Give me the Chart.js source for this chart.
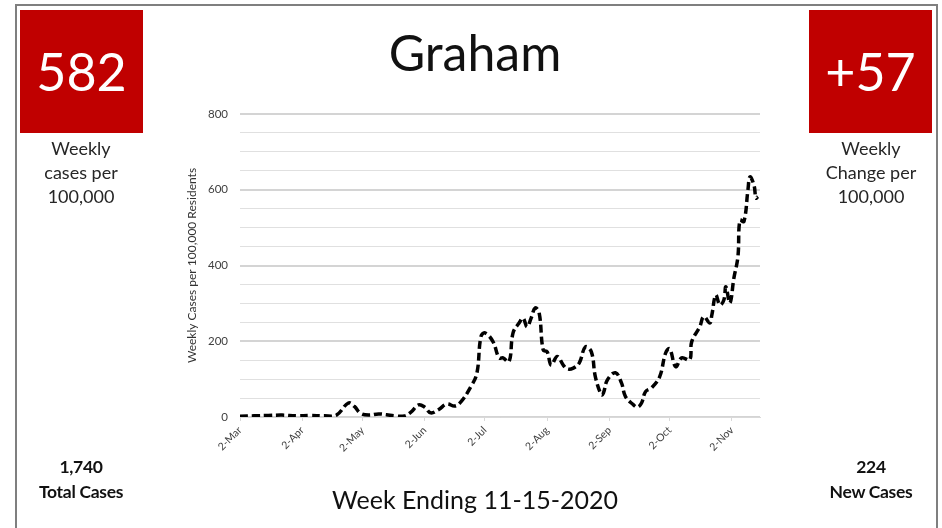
<!DOCTYPE html>
<html>
<head>
<meta charset="utf-8">
<script src="https://cdn.jsdelivr.net/npm/chart.js@4"></script>
<style>
  body { margin: 0; background: #fff; font-family: Lato, "Open Sans", sans-serif; }
  #wrap { position: relative; width: 942px; height: 528px; overflow: hidden; }
  #frame { position: absolute; left: 15px; top: 4px; width: 919px; height: 600px; border: 2px solid #7f7f7f; }
  canvas { position: absolute; left: 0; top: 0; }
  .box { position: absolute; top: 10px; width: 123px; height: 123px; background: #c00000; color: #fff;
         font-size: 52px; line-height: 123px; text-align: center; }
  .cap { position: absolute; top: 136px; width: 160px; text-align: center; font-size: 18px; line-height: 24px; color: #262626; }
  .stat { position: absolute; top: 454px; width: 160px; text-align: center; font-size: 17.5px; line-height: 25px; font-weight: bold; color: #111; letter-spacing: -0.3px; }
  #title { position: absolute; left: 275px; top: 22px; width: 400px; text-align: center; font-size: 50px; color: #111; }
  #week { position: absolute; left: 275px; top: 484px; width: 400px; text-align: center; font-size: 25px; color: #111; }
</style>
</head>
<body>
<div id="wrap">
  <div id="frame"></div>
  <canvas id="chart" width="942" height="528"></canvas>
  <div class="box" style="left:20px">582</div>
  <div class="box" style="left:809px">+57</div>
  <div class="cap" style="left:1px">Weekly<br>cases per<br>100,000</div>
  <div class="cap" style="left:791px">Weekly<br>Change per<br>100,000</div>
  <div class="stat" style="left:1px">1,740<br>Total Cases</div>
  <div class="stat" style="left:791px">224<br>New Cases</div>
  <div id="title">Graham</div>
  <div id="week">Week Ending 11-15-2020</div>
</div>
<script>
// days counted from 2-Mar
var days = [0, 7, 14, 21, 28, 35, 42, 48, 54, 57, 60, 64, 69, 73, 77, 82, 85, 89, 92, 95,
  99, 103, 107, 110, 115, 118, 120, 122, 126, 129, 131, 134, 136, 139, 141, 143, 145, 147, 149, 151,
  153, 155, 158, 161, 163, 166, 169, 172, 175, 177, 180, 181, 183, 187, 190, 192, 196, 198, 200, 202,
  205, 209, 212, 214, 217, 220, 224, 225, 229, 231, 234, 235, 237, 239, 241, 242, 244, 246, 248, 249,
  251, 253, 254, 256, 257, 258];
var cases = [2, 3, 4, 5, 3, 4, 3, 5, 37, 28, 10, 5, 8, 6, 3, 3, 12, 32, 26, 11,
  20, 34, 29, 40, 80, 116, 212, 222, 199, 156, 156, 146, 222, 248, 261, 238, 261, 288, 275, 177,
  172, 137, 160, 137, 127, 129, 143, 185, 172, 106, 58, 63, 98, 117, 90, 54, 32, 26, 37, 67,
  77, 106, 169, 180, 133, 156, 151, 199, 238, 265, 248, 269, 322, 296, 309, 344, 301, 367, 423, 520,
  516, 600, 634, 612, 578, 582];
var tickDays = [0, 31, 61, 92, 122, 153, 184, 214, 245];
var tickLabels = ["2-Mar", "2-Apr", "2-May", "2-Jun", "2-Jul", "2-Aug", "2-Sep", "2-Oct", "2-Nov"];

var points = days.map(function (d, i) { return { x: d, y: cases[i] }; });

new Chart(document.getElementById("chart"), {
  type: "line",
  data: {
    datasets: [{
      data: points,
      borderColor: "#000",
      borderWidth: 3.5,
      borderDash: [8, 4],
      pointRadius: 0,
      tension: 0.4,
      fill: false
    }]
  },
  options: {
    responsive: false,
    animation: false,
    layout: { padding: { left: 185, right: 182, top: 114, bottom: 71 } },
    plugins: { legend: { display: false }, tooltip: { enabled: false } },
    scales: {
      x: {
        type: "linear",
        min: 0,
        max: 259,
        afterFit: function (scale) { scale.height = 40; },
        afterBuildTicks: function (scale) {
          scale.ticks = tickDays.map(function (d) { return { value: d }; });
        },
        ticks: {
          minRotation: 45,
          maxRotation: 45,
          color: "#404040",
          font: { family: "Lato", size: 10.5 },
          callback: function (v) { return tickLabels[tickDays.indexOf(v)]; }
        },
        grid: { drawOnChartArea: false, tickLength: 4, color: "#d9d9d9" },
        border: { color: "#d9d9d9" }
      },
      y: {
        min: 0,
        max: 800,
        afterFit: function (scale) { scale.width = 55; },
        ticks: {
          stepSize: 50,
          padding: 12,
          color: "#404040",
          font: { family: "Lato", size: 11.5 },
          callback: function (v) { return v % 200 === 0 ? v : ""; }
        },
        grid: {
          drawTicks: false,
          color: function (c) { return c.tick && c.tick.value % 200 === 0 ? "#d4d4d4" : "#e0e0e0"; },
          lineWidth: function (c) { return c.tick && c.tick.value % 200 === 0 ? 2 : 1; }
        },
        border: { display: false },
        title: {
          display: true,
          text: "Weekly Cases per 100,000 Residents",
          color: "#333",
          font: { family: "Lato", size: 12 },
          padding: 0
        }
      }
    }
  }
});
</script>
</body>
</html>
